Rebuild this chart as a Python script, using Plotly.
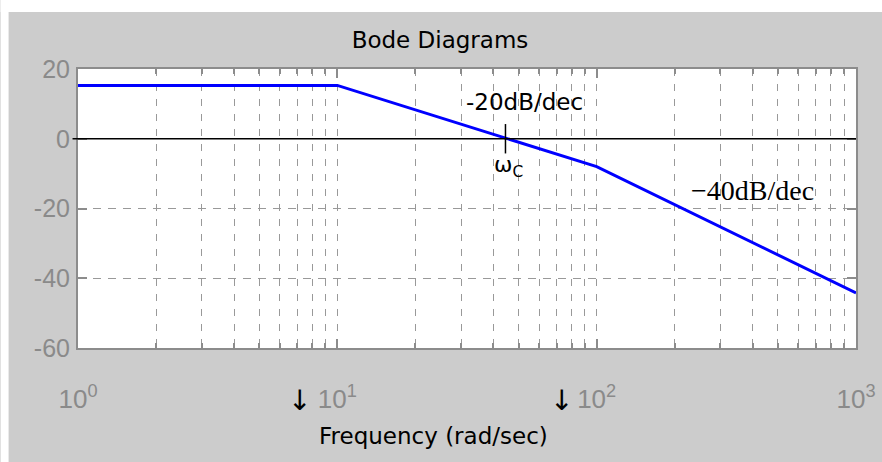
import plotly.graph_objects as go
import numpy as np

# Asymptotic magnitude plot: corner frequencies and levels (dB)
freq_breaks = [1, 10, 100, 1000]
mag_db = [15.3, 15.3, -8.0, -44.2]

# Crossover frequency (rad/s)
omega_c = 44.5

# Axis ticks
y_ticks = [-60, -40, -20, 0, 20]
y_tick_labels = ["-60", "-40", "-20", "0", "20"]
x_decades = [1, 10, 100, 1000]
x_decade_labels = ["10<sup>0</sup>", "10<sup>1</sup>", "10<sup>2</sup>", "10<sup>3</sup>"]
x_minor = [m * d for d in (1, 10, 100) for m in range(2, 10)]

# Slope labels
slope_labels = ["-20dB/dec", "\u221240dB/dec"]
slope_label_freq = [52.5, 400]
slope_label_db = [10.5, -14.9]

# page layout (nominal 882 x 462 canvas, figure sized slightly larger)
S = 882 / 876
W, H = 888, 465
ML, MT = 78, 69
MR = W - round(856 * S)
MB = H - round(346 * S)
PW, PH = W - ML - MR, H - MT - MB

GRID = "#999999"
FRAME = "#8c8c8c"
TICKTXT = "#8a8a8a"
BG = "#cccccc"


def px_x(p):
    return (p * S - ML) / PW


def px_y(p):
    return (H - MB - p * S) / PH


fig = go.Figure()

fig.add_trace(go.Scatter(
    x=freq_breaks, y=mag_db, mode="lines",
    line=dict(color="#0000ff", width=3),
    hoverinfo="skip", showlegend=False,
))

# crossover marker
fig.add_trace(go.Scatter(
    x=[omega_c], y=[0], mode="markers",
    marker=dict(symbol="line-ns", size=21, line=dict(color="black", width=1.5)),
    hoverinfo="skip", showlegend=False,
))

annotations = [
    dict(text=slope_labels[0], x=np.log10(slope_label_freq[0]), y=slope_label_db[0],
         xref="x", yref="y", showarrow=False,
         font=dict(family="DejaVu Sans", size=23, color="black")),
    dict(text=slope_labels[1], x=np.log10(slope_label_freq[1]), y=slope_label_db[1],
         xref="x", yref="y", showarrow=False,
         font=dict(family="Liberation Serif", size=28, color="black")),
    dict(text="\u03c9<sub>C</sub>", x=np.log10(omega_c), y=-8.0, xshift=3,
         xref="x", yref="y", showarrow=False,
         font=dict(family="DejaVu Sans", size=22, color="black")),
    # arrows beside the 10^1 and 10^2 tick labels
    dict(text="\u2193", x=1, y=px_y(398), xref="x", yref="paper",
         xanchor="right", yanchor="middle", xshift=-24, showarrow=False,
         font=dict(family="DejaVu Sans", size=28, color="black")),
    dict(text="\u2193", x=2, y=px_y(398), xref="x", yref="paper",
         xanchor="right", yanchor="middle", xshift=-22, showarrow=False,
         font=dict(family="DejaVu Sans", size=28, color="black")),
    dict(text="Frequency (rad/sec)", x=px_x(433), y=px_y(433),
         xref="paper", yref="paper", showarrow=False,
         xanchor="center", yanchor="middle",
         font=dict(family="DejaVu Sans", size=23, color="black")),
]

shapes = [
    # white strips along the top and left edges of the figure
    dict(type="rect", xref="paper", yref="paper",
         x0=px_x(0), x1=px_x(900), y0=px_y(12), y1=px_y(0),
         fillcolor="white", line=dict(width=0), layer="above"),
    dict(type="rect", xref="paper", yref="paper",
         x0=px_x(0), x1=px_x(8), y0=px_y(480), y1=px_y(0),
         fillcolor="white", line=dict(width=0), layer="above"),
    # 0 dB reference line, running slightly past the left frame
    dict(type="line", xref="paper", yref="y",
         x0=px_x(72), x1=1, y0=0, y1=0,
         line=dict(color="black", width=1.5), layer="above"),
]

fig.update_layout(
    width=W, height=H,
    margin=dict(l=ML, r=MR, t=MT, b=MB),
    paper_bgcolor=BG, plot_bgcolor="white",
    title=dict(text="Bode Diagrams", x=437 * S / W, xref="container", xanchor="center",
               y=1 - 40 * S / H, yref="container", yanchor="middle",
               font=dict(family="DejaVu Sans", size=23, color="black")),
    annotations=annotations,
    shapes=shapes,
    showlegend=False,
)

fig.update_xaxes(
    type="log", range=[0, 3],
    tickmode="array", tickvals=x_decades, ticktext=x_decade_labels,
    tickfont=dict(family="Liberation Sans", size=26, color=TICKTXT),
    ticks="inside", ticklen=9, tickcolor=FRAME, tickwidth=1.5,
    ticklabelstandoff=27,
    showgrid=True, gridcolor=GRID, griddash="7px,8px", gridwidth=1,
    minor=dict(tickmode="array", tickvals=x_minor, ticks="inside", ticklen=5,
               tickcolor=FRAME, tickwidth=1.5,
               showgrid=True, gridcolor=GRID, griddash="7px,8px", gridwidth=1),
    showline=True, linecolor=FRAME, linewidth=2, mirror="ticks",
    zeroline=False,
)

fig.update_yaxes(
    range=[-60, 20],
    tickmode="array", tickvals=y_ticks, ticktext=y_tick_labels,
    tickfont=dict(family="Liberation Sans", size=25, color=TICKTXT),
    ticks="inside", ticklen=9, tickcolor=FRAME, tickwidth=1.5,
    ticklabelstandoff=1,
    showgrid=True, gridcolor=GRID, griddash="8px,7px", gridwidth=1,
    showline=True, linecolor=FRAME, linewidth=2, mirror="ticks",
    zeroline=False,
)

fig.write_html(
    "out.html",
    config={"displayModeBar": False, "responsive": False},
    post_script="document.body.style.margin='0';"
                "document.body.style.background='" + BG + "';"
                "document.documentElement.style.background='" + BG + "';"
                "document.documentElement.style.overflow='hidden';"
                "document.body.style.overflow='hidden';",
)
